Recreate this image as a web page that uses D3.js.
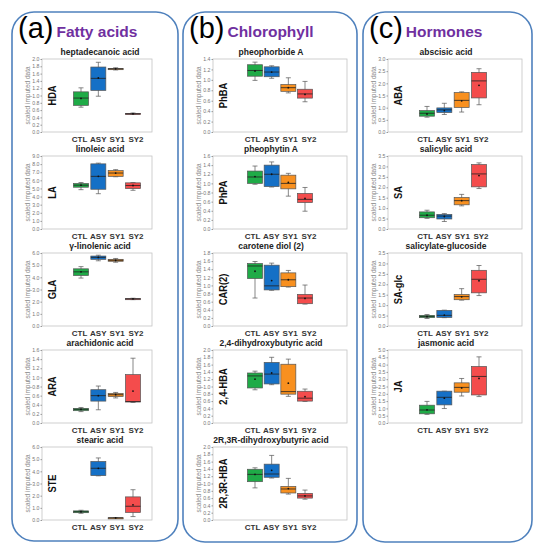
<!DOCTYPE html>
<html>
<head>
<meta charset="utf-8">
<script src="https://cdn.jsdelivr.net/npm/d3@7/dist/d3.min.js"></script>
<style>
  body { margin: 0; background: #fff; }
  text { font-family: Arial, "Liberation Sans", sans-serif; }
</style>
</head>
<body>
<div id="chart"></div>
<script>
// groups and their box colours
var groups = ["CTL", "ASY", "SY1", "SY2"];
var groupColors = ["#1fab47", "#1570c6", "#f8901f", "#f44c4c"];

// each row: [whisker low, q1, median, q3, whisker high, mean]
var HDA = [[0.68, 0.73, 0.93, 1.10, 1.21, 0.92], [0.98, 1.14, 1.47, 1.78, 1.91, 1.48], [1.70, 1.71, 1.73, 1.74, 1.76, 1.73], [0.48, 0.49, 0.50, 0.51, 0.52, 0.50]];
var LA = [[4.85, 5.15, 5.40, 5.61, 5.73, 5.40], [4.35, 4.90, 6.49, 8.03, 8.12, 6.50], [6.44, 6.49, 6.90, 7.20, 7.32, 6.90], [4.77, 4.98, 5.36, 5.69, 5.73, 5.36]];
var GLA = [[3.94, 4.15, 4.45, 4.70, 4.88, 4.45], [5.36, 5.48, 5.64, 5.75, 5.82, 5.64], [5.24, 5.32, 5.40, 5.48, 5.55, 5.40], [2.17, 2.20, 2.23, 2.26, 2.28, 2.23]];
var ARA = [[0.25, 0.27, 0.30, 0.32, 0.34, 0.30], [0.29, 0.48, 0.60, 0.73, 0.81, 0.60], [0.55, 0.58, 0.62, 0.65, 0.67, 0.62], [0.45, 0.46, 0.47, 1.06, 1.42, 0.70]];
var STE = [[0.55, 0.60, 0.68, 0.75, 0.80, 0.68], [3.63, 3.65, 4.25, 4.81, 5.10, 4.25], [0.13, 0.14, 0.17, 0.19, 0.20, 0.17], [0.28, 0.62, 1.13, 1.90, 2.49, 1.25]];

var PhBA = [[0.99, 1.07, 1.18, 1.29, 1.34, 1.17], [1.03, 1.06, 1.15, 1.25, 1.27, 1.15], [0.75, 0.78, 0.85, 0.91, 1.04, 0.85], [0.58, 0.65, 0.73, 0.82, 0.97, 0.72]];
var PhPA = [[0.98, 1.00, 1.14, 1.27, 1.38, 1.15], [0.92, 0.93, 1.20, 1.40, 1.47, 1.20], [0.72, 0.88, 1.00, 1.18, 1.22, 1.02], [0.39, 0.58, 0.65, 0.78, 0.91, 0.67]];
var CAR2 = [[0.69, 1.17, 1.48, 1.54, 1.59, 1.35], [0.88, 0.89, 0.99, 1.50, 1.55, 1.12], [0.96, 0.97, 1.14, 1.31, 1.37, 1.14], [0.54, 0.55, 0.69, 0.78, 1.01, 0.68]];
var HBA24 = [[0.91, 0.96, 1.29, 1.37, 1.42, 1.20], [1.05, 1.07, 1.34, 1.66, 1.80, 1.37], [0.73, 0.79, 0.86, 1.61, 1.75, 1.09], [0.59, 0.60, 0.68, 0.87, 0.93, 0.72]];
var HBA2R3R = [[0.88, 1.05, 1.25, 1.39, 1.43, 1.25], [1.15, 1.17, 1.26, 1.53, 1.77, 1.36], [0.71, 0.74, 0.85, 0.92, 1.14, 0.86], [0.57, 0.60, 0.66, 0.73, 0.82, 0.66]];

var ABA = [[0.61, 0.65, 0.77, 0.88, 1.05, 0.74], [0.72, 0.80, 0.91, 0.99, 1.18, 0.88], [0.82, 1.01, 1.30, 1.62, 1.65, 1.28], [1.12, 1.40, 2.10, 2.45, 2.60, 1.92]];
var SA = [[0.51, 0.54, 0.66, 0.82, 0.90, 0.66], [0.36, 0.48, 0.62, 0.70, 0.74, 0.60], [1.11, 1.16, 1.36, 1.51, 1.66, 1.36], [1.94, 2.02, 2.64, 3.09, 3.17, 2.56]];
var SAglc = [[0.36, 0.40, 0.46, 0.51, 0.55, 0.45], [0.40, 0.41, 0.51, 0.75, 0.76, 0.52], [1.24, 1.26, 1.41, 1.51, 1.79, 1.40], [1.46, 1.59, 2.24, 2.67, 2.90, 2.17]];
var JA = [[0.59, 0.63, 0.89, 1.22, 1.48, 0.90], [0.99, 1.24, 1.76, 2.18, 2.18, 1.70], [1.85, 2.11, 2.44, 2.75, 3.05, 2.40], [1.81, 1.92, 3.19, 3.87, 4.53, 3.05]];

// panel headings
var panelLetters = ["(a)", "(b)", "(c)"];
var panelNames = ["Fatty acids", "Chlorophyll", "Hormones"];

// per column: chart titles, short labels, data, y max, tick step
var titlesA = ["heptadecanoic acid", "linoleic acid", "\u03b3-linolenic acid", "arachidonic acid", "stearic acid"];
var labelsA = ["HDA", "LA", "GLA", "ARA", "STE"];
var dataA = [HDA, LA, GLA, ARA, STE];
var yMaxA = [2.0, 9.0, 6.0, 1.6, 6.0];
var stepA = [0.2, 1, 1, 0.2, 1];

var titlesB = ["pheophorbide A", "pheophytin A", "carotene diol (2)", "2,4-dihydroxybutyric acid", "2R,3R-dihydroxybutyric acid"];
var labelsB = ["PhBA", "PhPA", "CAR(2)", "2,4-HBA", "2R,3R-HBA"];
var dataB = [PhBA, PhPA, CAR2, HBA24, HBA2R3R];
var yMaxB = [1.4, 1.6, 1.8, 2.0, 2.0];
var stepB = [0.2, 0.2, 0.2, 0.2, 0.2];

var titlesC = ["abscisic acid", "salicylic acid", "salicylate-glucoside", "jasmonic acid"];
var labelsC = ["ABA", "SA", "SA-glc", "JA"];
var dataC = [ABA, SA, SAglc, JA];
var yMaxC = [3.0, 3.5, 3.5, 5.0];
var stepC = [0.5, 0.5, 0.5, 0.5];

var W = 543, H = 550;
var svg = d3.select("#chart").append("svg")
  .attr("width", W)
  .attr("height", H);

// layout
var panelBoxes = [
  {x: 12, y: 12, w: 166, h: 529},
  {x: 183, y: 12, w: 174, h: 530},
  {x: 363, y: 12, w: 169, h: 530}
];
// c0/c1: first/last box centre, l0/l1: first/last x label centre (from frame left)
var frames = [
  {left: 42, right: 152, c0: 39, c1: 91, l0: 37.5, l1: 94},
  {left: 213, right: 347, c0: 42, c1: 92, l0: 39.5, l1: 96},
  {left: 388, right: 522, c0: 39, c1: 91, l0: 37, l1: 93}
];
var rowTop = 59, rowStep = 97, frameH = 73;
var boxW = 15, capW = 5;

panelBoxes.forEach(function(p, i) {
  svg.append("rect")
    .attr("x", p.x).attr("y", p.y)
    .attr("width", p.w).attr("height", p.h)
    .attr("rx", 22).attr("ry", 22)
    .attr("fill", "none")
    .attr("stroke", "#4f81bd")
    .attr("stroke-width", 1.6);

  var head = svg.append("text")
    .attr("x", p.x + 6).attr("y", 38);
  head.append("tspan")
    .attr("font-size", 29)
    .attr("fill", "#000")
    .text(panelLetters[i]);
  head.append("tspan")
    .attr("dx", 3)
    .attr("font-size", 15.5)
    .attr("font-weight", "bold")
    .attr("fill", "#7030a0")
    .attr("dy", -1)
    .text(panelNames[i]);
});

var columns = [
  {titles: titlesA, labels: labelsA, data: dataA, yMax: yMaxA, step: stepA},
  {titles: titlesB, labels: labelsB, data: dataB, yMax: yMaxB, step: stepB},
  {titles: titlesC, labels: labelsC, data: dataC, yMax: yMaxC, step: stepC}
];

columns.forEach(function(col, ci) {
  var f = frames[ci];
  col.data.forEach(function(series, ri) {
    var top = rowTop + ri * rowStep;
    var bottom = top + frameH;

    var x = d3.scalePoint()
      .domain(groups)
      .range([f.left + f.c0, f.left + f.c1]);
    var xl = d3.scalePoint()
      .domain(groups)
      .range([f.left + f.l0, f.left + f.l1]);
    var y = d3.scaleLinear()
      .domain([0, col.yMax[ri]])
      .range([bottom, top]);

    var g = svg.append("g");

    // title
    g.append("text")
      .attr("x", f.left + 58)
      .attr("y", top - 4)
      .attr("text-anchor", "middle")
      .attr("font-size", 8.5)
      .attr("font-weight", "bold")
      .attr("fill", "#222")
      .text(col.titles[ri]);

    // frame
    g.append("rect")
      .attr("x", f.left).attr("y", top)
      .attr("width", f.right - f.left).attr("height", frameH)
      .attr("fill", "#fff")
      .attr("stroke", "#c4c4c4")
      .attr("stroke-width", 0.8);

    // y axis
    var ticks = d3.range(0, col.yMax[ri] + col.step[ri] / 2, col.step[ri]);
    var ax = g.append("g")
      .attr("transform", "translate(" + f.left + ",0)")
      .call(d3.axisLeft(y).tickValues(ticks).tickFormat(d3.format(".1f")).tickSize(1.5).tickPadding(1));
    ax.select(".domain").remove();
    ax.selectAll("line").attr("stroke", "#999");
    ax.selectAll("text")
      .attr("font-size", 5.2)
      .attr("fill", "#777")
      .attr("font-family", "Arial, 'Liberation Sans', sans-serif");

    g.append("text")
      .attr("transform", "translate(" + (f.left - 12) + "," + (top + frameH / 2) + ") rotate(-90)")
      .attr("text-anchor", "middle")
      .attr("font-size", 6.5)
      .attr("fill", "#888")
      .text("scaled imputed data");

    g.append("text")
      .attr("transform", "translate(" + (f.left + 14) + "," + (top + frameH / 2) + ") rotate(-90) scale(0.85,1)")
      .attr("text-anchor", "middle")
      .attr("font-size", 11)
      .attr("font-weight", "bold")
      .attr("fill", "#111")
      .text(col.labels[ri]);

    // x labels
    g.selectAll(".xl").data(groups).enter().append("text")
      .attr("x", function(d) { return xl(d); })
      .attr("y", bottom + 10)
      .attr("text-anchor", "middle")
      .attr("font-size", 8)
      .attr("font-weight", "bold")
      .attr("fill", "#333")
      .text(function(d) { return d; });

    // boxes
    var b = g.selectAll(".bx").data(series).enter().append("g");
    var cx = function(d, i) { return x(groups[i]); };

    b.append("line")
      .attr("x1", cx).attr("x2", cx)
      .attr("y1", function(d) { return y(d[0]); })
      .attr("y2", function(d) { return y(d[4]); })
      .attr("stroke", "#555").attr("stroke-width", 0.7);
    [0, 4].forEach(function(k) {
      b.append("line")
        .attr("x1", function(d, i) { return cx(d, i) - capW / 2; })
        .attr("x2", function(d, i) { return cx(d, i) + capW / 2; })
        .attr("y1", function(d) { return y(d[k]); })
        .attr("y2", function(d) { return y(d[k]); })
        .attr("stroke", "#555").attr("stroke-width", 0.7);
    });
    b.append("rect")
      .attr("x", function(d, i) { return cx(d, i) - boxW / 2; })
      .attr("width", boxW)
      .attr("y", function(d) { return y(d[3]); })
      .attr("height", function(d) { return Math.max(1.2, y(d[1]) - y(d[3])); })
      .attr("fill", function(d, i) { return groupColors[i]; })
      .attr("stroke", "#555").attr("stroke-width", 0.7);
    b.append("line")
      .attr("x1", function(d, i) { return cx(d, i) - boxW / 2; })
      .attr("x2", function(d, i) { return cx(d, i) + boxW / 2; })
      .attr("y1", function(d) { return y(d[2]); })
      .attr("y2", function(d) { return y(d[2]); })
      .attr("stroke", "#222").attr("stroke-width", 0.8);
    b.append("circle")
      .attr("cx", cx)
      .attr("cy", function(d) { return y(d[5]); })
      .attr("r", 0.9)
      .attr("fill", "#111");
  });
});
</script>
</body>
</html>
